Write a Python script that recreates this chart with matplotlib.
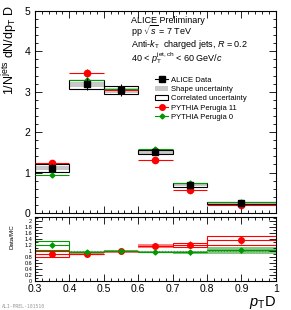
import matplotlib
matplotlib.use("Agg")
import matplotlib.pyplot as plt
import numpy as np
from matplotlib.lines import Line2D
from matplotlib.patches import Patch

plt.rcParams['font.family'] = ['Liberation Sans', 'DejaVu Sans']
plt.rcParams['mathtext.fontset'] = 'custom'
plt.rcParams['mathtext.rm'] = 'Liberation Sans'
plt.rcParams['mathtext.it'] = 'Liberation Sans:italic'

# bins in pT D
edges = np.array([0.3, 0.4, 0.5, 0.6, 0.7, 0.8, 1.0])

# ALICE data
data = np.array([1.12, 3.18, 3.04, 1.51, 0.69, 0.25])
data_stat = np.array([0.10, 0.15, 0.15, 0.06, 0.04, 0.02])
data_shape = np.array([0.05, 0.06, 0.06, 0.04, 0.03, 0.02])
data_corr = np.array([0.10, 0.12, 0.10, 0.05, 0.05, 0.03])

# PYTHIA
p11 = np.array([1.24, 3.46, 3.04, 1.31, 0.57, 0.20])
p11_err = np.array([0.08, 0.10, 0.10, 0.04, 0.03, 0.02])
p0 = np.array([0.94, 3.30, 3.06, 1.58, 0.74, 0.28])
p0_err = np.array([0.05, 0.06, 0.06, 0.04, 0.03, 0.02])

# Data/MC ratios
r11 = np.array([0.91, 0.92, 1.00, 1.18, 1.22, 1.37])
r11_err = np.array([0.06, 0.05, 0.05, 0.08, 0.12, 0.12])
r11_shape = np.array([0.00, 0.06, 0.05, 0.06, 0.00, 0.00])
r11_corr = np.array([0.11, 0.00, 0.00, 0.00, 0.07, 0.15])
r0 = np.array([1.20, 0.97, 1.00, 0.98, 0.96, 1.03])
r0_err = np.array([0.10, 0.05, 0.05, 0.05, 0.08, 0.08])
r0_shape = np.array([0.00, 0.03, 0.03, 0.03, 0.06, 0.12])
r0_corr = np.array([0.15, 0.00, 0.00, 0.00, 0.00, 0.00])

centers = 0.5 * (edges[:-1] + edges[1:])
widths = np.diff(edges)

fig = plt.figure(figsize=(2.91, 3.10), dpi=100)
ax = fig.add_axes([0.120, 0.313, 0.828, 0.652])
axr = fig.add_axes([0.120, 0.094, 0.828, 0.206])

red = '#ff0000'
green = '#009900'

# main panel
ax.bar(centers, 2 * data_shape, bottom=data - data_shape, width=widths,
       color='#c8c8c8', edgecolor='none', zorder=1)
ax.bar(centers, 2 * data_corr, bottom=data - data_corr, width=widths,
       facecolor='none', edgecolor='black', linewidth=0.8, zorder=2)
ax.errorbar(centers, p11, yerr=p11_err, xerr=widths / 2, fmt='o', color=red,
            ms=4.5, elinewidth=0.8, capsize=0, zorder=3)
ax.errorbar(centers, p0, yerr=p0_err, xerr=widths / 2, fmt='D', color=green,
            ms=2.5, elinewidth=0.8, capsize=0, zorder=4)
ax.errorbar(centers, data, yerr=data_stat, fmt='s', color='black',
            ms=4, elinewidth=0.8, capsize=0, zorder=5)

ax.set_xlim(0.3, 1.0)
ax.set_ylim(0, 5)
ax.set_yticks([0, 1, 2, 3, 4, 5])
ax.set_yticks(np.arange(0, 5.01, 0.2), minor=True)
ax.set_xticks(np.arange(0.3, 1.01, 0.1))
ax.set_xticks(np.arange(0.3, 1.001, 0.02), minor=True)
ax.tick_params(which='both', direction='in', top=True, right=True, labelsize=7.5,
               width=0.6)
ax.tick_params(which='major', length=5)
ax.tick_params(which='minor', length=2.5)
ax.tick_params(axis='x', labelbottom=False)

tx = 0.40
ax.text(tx, 0.94, 'ALICE Preliminary', transform=ax.transAxes, fontsize=6.5)
ax.text(tx, 0.88, r'pp $\sqrt{s}$ = 7 TeV', transform=ax.transAxes, fontsize=6.5)
ax.text(tx, 0.82, r'Anti-$k_{\rm T}$  charged jets, $R$ = 0.2',
        transform=ax.transAxes, fontsize=6.5)
ax.text(tx, 0.75, r'40 < $p_{\rm T}^{\rm jet,ch}$ < 60 GeV/$c$',
        transform=ax.transAxes, fontsize=6.5)

handles = [
    Line2D([], [], color='black', marker='s', ms=4, lw=0.8),
    Patch(facecolor='#c8c8c8', edgecolor='none'),
    Patch(facecolor='white', edgecolor='black', linewidth=0.8),
    Line2D([], [], color=red, marker='o', ms=4, lw=0.8),
    Line2D([], [], color=green, marker='D', ms=2.5, lw=0.8),
]
labels = ['ALICE Data', 'Shape uncertainty', 'Correlated uncertainty',
          'PYTHIA Perugia 11', 'PYTHIA Perugia 0']
ax.legend(handles, labels, loc='upper left', bbox_to_anchor=(0.50, 0.675),
          frameon=False, fontsize=5.5, handlelength=1.6, handletextpad=0.4,
          labelspacing=0.25, borderaxespad=0, borderpad=0)

fig.text(0.035, 0.985, r'1/N$^{\rm jets}$ dN/dp$_{\rm T}$ D', rotation=90,
         ha='center', va='top', fontsize=9)

# ratio panel
axr.axhline(1.0, color='black', ls=':', lw=0.8, zorder=0)
for r, shp, cor, col, light in [(r11, r11_shape, r11_corr, red, '#ff6666'),
                                (r0, r0_shape, r0_corr, green, '#66bb66')]:
    axr.bar(centers, 2 * shp, bottom=r - shp, width=widths,
            color=light, edgecolor='none', alpha=0.8, zorder=1)
    axr.bar(centers, 2 * cor, bottom=r - cor, width=widths,
            facecolor='none', edgecolor=col, linewidth=0.8, zorder=2)
axr.errorbar(centers, r11, yerr=r11_err, xerr=widths / 2, fmt='o', color=red,
             ms=4, elinewidth=0.8, capsize=0, zorder=3)
axr.errorbar(centers, r0, yerr=r0_err, xerr=widths / 2, fmt='D', color=green,
             ms=2.5, elinewidth=0.8, capsize=0, zorder=4)

axr.set_xlim(0.3, 1.0)
axr.set_ylim(0, 2.15)
axr.set_yticks(np.arange(0, 2.01, 0.2))
axr.set_yticklabels(['0', '0.2', '0.4', '0.6', '0.8', '1', '1.2', '1.4',
                     '1.6', '1.8', '2'], fontsize=4)
axr.set_yticks(np.arange(0, 2.15, 0.1), minor=True)
axr.set_xticks(np.arange(0.3, 1.01, 0.1))
axr.set_xticklabels(['0.3', '0.4', '0.5', '0.6', '0.7', '0.8', '0.9', '1'],
                    fontsize=7.5)
axr.set_xticks(np.arange(0.3, 1.001, 0.02), minor=True)
axr.tick_params(which='both', direction='in', top=True, right=True, width=0.6)
axr.tick_params(which='major', length=5, pad=2)
axr.tick_params(axis='x', which='major', pad=2.5)
axr.tick_params(which='minor', length=2.5)
axr.set_ylabel('Data/MC', fontsize=4.5, labelpad=3)
axr.yaxis.set_label_coords(-0.085, 0.7)

fig.text(0.950, 0.012, r'$p_{\rm T}$D', ha='right', va='baseline', fontsize=10.5)
fig.text(0.005, 0.008, 'ALI-PREL-101510', fontsize=3.5, color='#999999',
         family='DejaVu Sans Mono')

for a in (ax, axr):
    for s in a.spines.values():
        s.set_linewidth(0.8)

fig.savefig('out.png', dpi=100)
